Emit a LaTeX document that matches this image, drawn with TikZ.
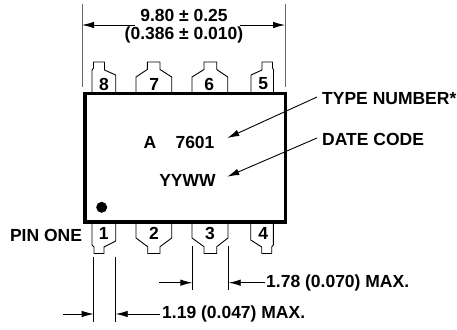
\documentclass[tikz,border=0pt]{standalone}
\usepackage{fontspec}
\setmainfont{Liberation Sans}
\usetikzlibrary{arrows.meta}

\begin{document}
\begin{tikzpicture}[x=1pt,y=-1pt,every path/.style={>={Latex[length=12pt,width=6.5pt]}},
  every node/.style={inner sep=0pt,font=\fontsize{17.5}{19}\selectfont\bfseries},
  pin/.style={line width=0.9pt,line join=round},
  dim/.style={line width=0.9pt}]
\useasboundingbox (0,0) rectangle (457,329);
% package body
\draw[line width=3.2pt] (85,93.5) rectangle (285.5,222);
\node[circle,fill,minimum size=11pt] (dot) at (101.7,207.3) {};
% upper pins
\draw[pin] (92,92) -- (92,70) -- (93.5,68) -- (93.5,62) -- (104.5,62) -- (104.5,70) -- (115.7,75) -- (115.7,92);
\draw[pin] (136,92) -- (136,77) -- (147.3,69.5) -- (147.3,62) -- (160,62) -- (160,69.5) -- (171.7,77) -- (171.7,92);
\draw[pin] (192,92) -- (192,77) -- (204,69.5) -- (204,62) -- (216.7,62) -- (216.7,69.5) -- (227.7,77) -- (227.7,92);
\draw[pin] (251,92) -- (251,75) -- (262,70) -- (262,62) -- (272.5,62) -- (272.5,68) -- (273.5,70) -- (273.5,92);
% lower pins
\draw[pin] (92,223) -- (92,245) -- (94,247) -- (94,253.5) -- (104,253.5) -- (104,247) -- (115.7,241) -- (115.7,223);
\draw[pin] (136,223) -- (136,238) -- (147.7,246.7) -- (147.7,253.5) -- (160,253.5) -- (160,246.7) -- (171.7,238) -- (171.7,223);
\draw[pin] (192,223) -- (192,238) -- (204,246.7) -- (204,253.5) -- (216.7,253.5) -- (216.7,246.7) -- (228,238) -- (228,223);
\draw[pin] (250.7,223) -- (250.7,240) -- (261.7,247) -- (261.7,253.5) -- (271.7,253.5) -- (271.7,247) -- (273.3,245) -- (273.3,223);
% pin numbers
\node (p8) at (104,84)    { 8 };
\node (p7) at (154.3,84)  { 7 };
\node (p6) at (209.3,84)  { 6 };
\node (p5) at (263.3,84)  { 5 };
\node (p1) at (103.7,233.5) { 1 };
\node (p2) at (154,233.5)   { 2 };
\node (p3) at (210,233.5)   { 3 };
\node (p4) at (263.3,233.5) { 4 };
% labels
\node (pinone) at (46,235.7)  { PIN ONE };
\node (typea)  at (150,142)   { A };
\node (typen)  at (195,142)   { 7601 };
\node (date)   at (187.5,180) { YYWW };
\node[anchor=west] (ltype) at (322,99)  { TYPE NUMBER* };
\node[anchor=west] (ldate) at (322,139) { DATE CODE };
\node (wtop)  at (184,15)   { 9.80 ± 0.25 };
\node (wbot)  at (184,34.7) { (0.386 ± 0.010) };
\node[anchor=west] (dim3) at (266,282.7) { 1.78 (0.070) MAX. };
\node[anchor=west] (dim1) at (162,314)   { 1.19 (0.047) MAX. };
% extension lines
\coordinate (wl0) at (82,4);    \coordinate (wl1) at (82,87);  \coordinate (wl)  at (82,25);
\coordinate (wr0) at (285,4);   \coordinate (wr1) at (285,87); \coordinate (wr)  at (285,25);
\coordinate (wla) at (135,25);  \coordinate (wra) at (240,25);
\coordinate (al0) at (93.7,257);  \coordinate (al1) at (93.7,321.7);
\coordinate (ar0) at (115.7,257); \coordinate (ar1) at (115.7,321.7);
\coordinate (bl0) at (192.3,246); \coordinate (bl1) at (192.3,290);
\coordinate (br0) at (228.7,246); \coordinate (br1) at (228.7,290);
\coordinate (ain) at (63,314);    \coordinate (atip) at (93.7,314);  \coordinate (btip) at (115.7,314);
\coordinate (bin) at (159.3,282.7); \coordinate (ctip) at (192.3,282.7); \coordinate (dtip) at (228.7,282.7);
\coordinate (tipt) at (227.3,138);  \coordinate (tipd) at (227.3,176.7);
\draw[dim,black!60] (wl0) -- (wl1);
\draw[dim,black!60] (wr0) -- (wr1);
\draw[dim] (al0) -- (al1);
\draw[dim] (ar0) -- (ar1);
\draw[dim] (bl0) -- (bl1);
\draw[dim] (br0) -- (br1);
% dimension arrows
\draw[dim,->] (wla) -- (wl);
\draw[dim,->] (wra) -- (wr);
\draw[dim,->] (ain) -- (atip);
\draw[dim,->] ([xshift=-2pt]dim1.west) -- (btip);
\draw[dim,->] (bin) -- (ctip);
\draw[dim,->] ([xshift=-1pt]dim3.west) -- (dtip);
\draw[dim,->] ([xshift=-5pt,yshift=2pt]ltype.west) -- (tipt);
\draw[dim,->] ([xshift=-5pt,yshift=1pt]ldate.west) -- (tipd);
\end{tikzpicture}
\end{document}
